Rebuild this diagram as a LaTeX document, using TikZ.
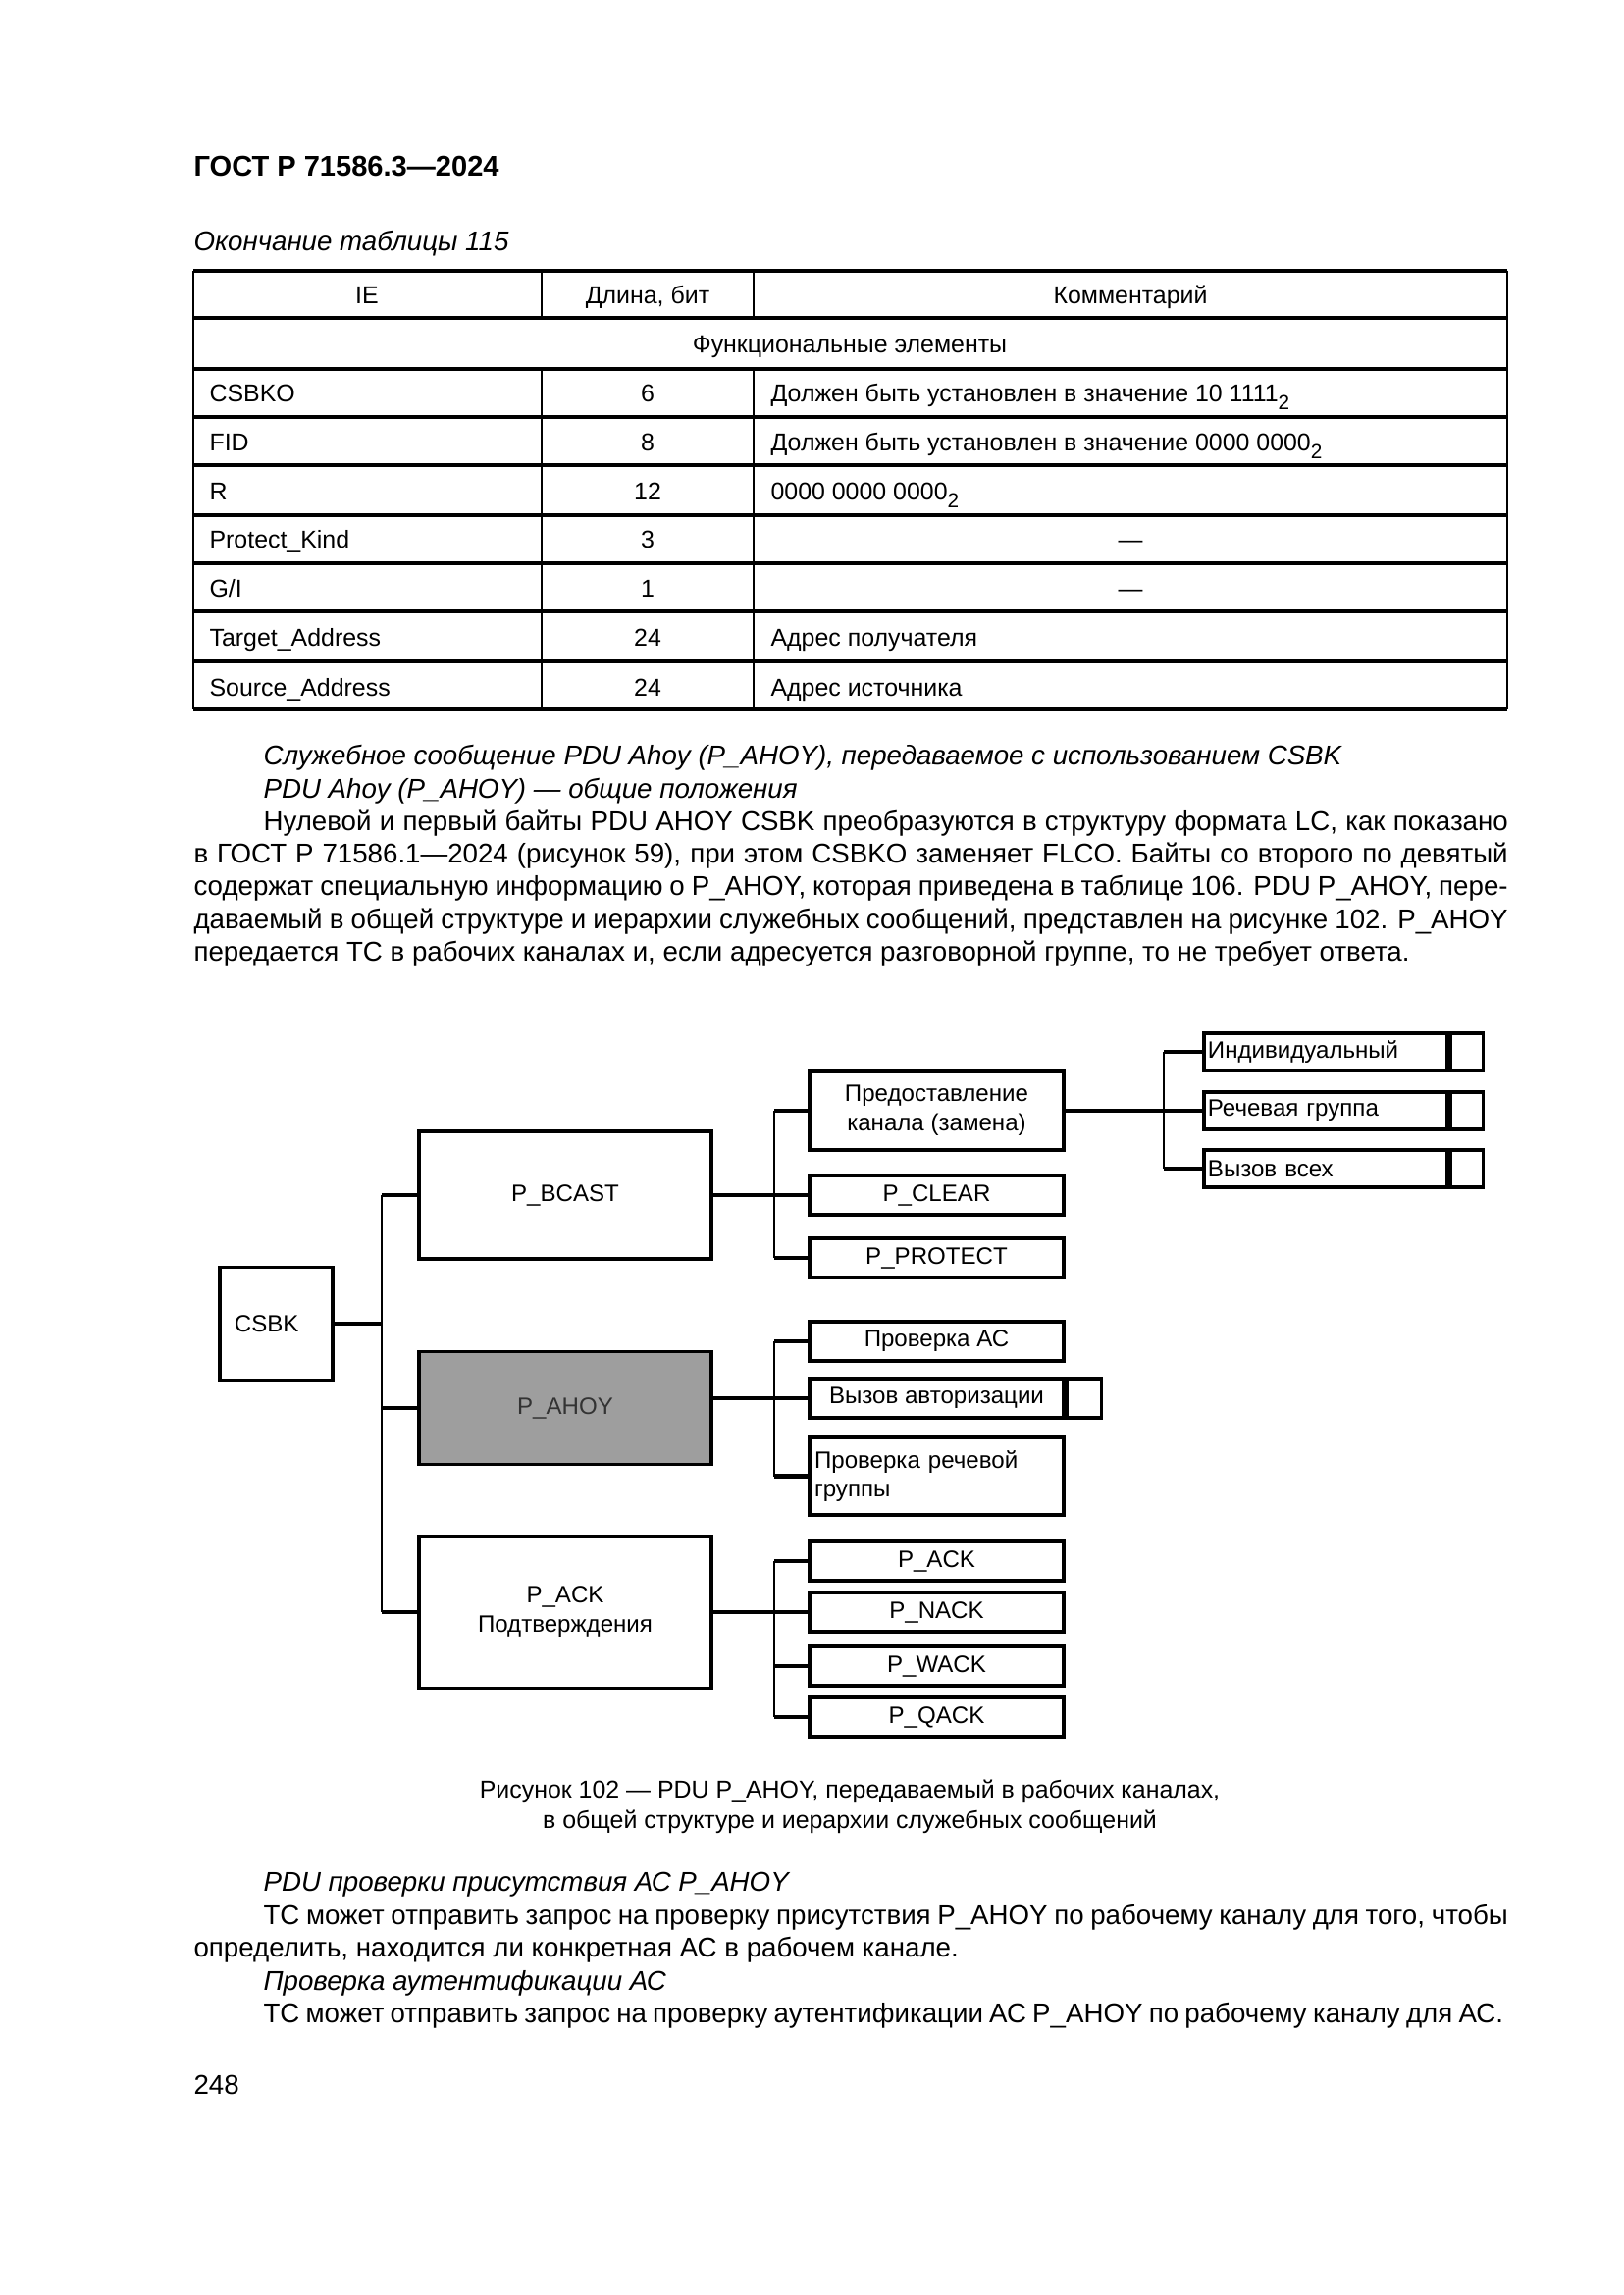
\documentclass[tikz,border=0pt]{standalone}
\usepackage{fontspec}
\setmainfont{Liberation Sans}
\begin{document}
\begin{tikzpicture}[x=0.12696mm,y=-0.12696mm,
  box/.style={draw, line width=1.2pt, inner sep=1pt, font=\fontsize{8.7}{10.8}\selectfont, align=center},
  conn/.style={line width=1.6pt},
  bus/.style={line width=0.9pt},
  tline/.style={line width=1.1pt},
  tvline/.style={line width=0.8pt},
  body/.style={anchor=base west, inner sep=0, font=\fontsize{10}{12}\selectfont},
  ibody/.style={body, font=\fontsize{10}{12}\selectfont\itshape},
  tcell/.style={inner sep=0, font=\fontsize{9}{11}\selectfont},
  captext/.style={anchor=base, inner sep=0, font=\fontsize{9}{11}\selectfont}]
\useasboundingbox[fill=white] (0,0) rectangle (1654,2339);

% header
\node[anchor=base west, inner sep=0, font=\fontsize{10.5}{12}\selectfont\bfseries] (hdr) at (197,180) {ГОСТ Р 71586.3—2024};
\node[ibody] (tabcap) at (197,256) {Окончание таблицы 115};

% table
\foreach \yy in {276,324,376,425,474,525,574,623,674,723} \draw[tline] (197,\yy) -- (1536,\yy);
\draw[tvline] (197,276) -- (197,723);
\draw[tvline] (1536,276) -- (1536,723);
\draw[tvline] (552,276) -- (552,324);
\draw[tvline] (768,276) -- (768,324);
\draw[tvline] (552,376) -- (552,723);
\draw[tvline] (768,376) -- (768,723);

\node[tcell, anchor=base] (h1) at (374,310) {IE};
\node[tcell, anchor=base] (h2) at (660,310) {Длина, бит};
\node[tcell, anchor=base] (h3) at (1152,310) {Комментарий};
\node[tcell, anchor=base] (fe) at (866,360) {Функциональные элементы};

\node[tcell, anchor=base west] (c11) at (213,410) {CSBKO};
\node[tcell, anchor=base] (c12) at (660,410) {6};
\node[tcell, anchor=base west] (c13) at (785,410) {Должен быть установлен в значение 10 1111\raisebox{-0.55ex}{\fontsize{7.5}{8}\selectfont 2}};
\node[tcell, anchor=base west] (c21) at (213,460) {FID};
\node[tcell, anchor=base] (c22) at (660,460) {8};
\node[tcell, anchor=base west] (c23) at (785,460) {Должен быть установлен в значение 0000 0000\raisebox{-0.55ex}{\fontsize{7.5}{8}\selectfont 2}};
\node[tcell, anchor=base west] (c31) at (213,510) {R};
\node[tcell, anchor=base] (c32) at (660,510) {12};
\node[tcell, anchor=base west] (c33) at (785,510) {0000 0000 0000\raisebox{-0.55ex}{\fontsize{7.5}{8}\selectfont 2}};
\node[tcell, anchor=base west] (c41) at (213,559) {Protect\_Kind};
\node[tcell, anchor=base] (c42) at (660,559) {3};
\node[tcell, anchor=base] (c43) at (1152,559) {—};
\node[tcell, anchor=base west] (c51) at (213,609) {G/I};
\node[tcell, anchor=base] (c52) at (660,609) {1};
\node[tcell, anchor=base] (c53) at (1152,609) {—};
\node[tcell, anchor=base west] (c61) at (213,659) {Target\_Address};
\node[tcell, anchor=base] (c62) at (660,659) {24};
\node[tcell, anchor=base west] (c63) at (785,659) {Адрес получателя};
\node[tcell, anchor=base west] (c71) at (213,709) {Source\_Address};
\node[tcell, anchor=base] (c72) at (660,709) {24};
\node[tcell, anchor=base west] (c73) at (785,709) {Адрес источника};

% top paragraphs
\node[ibody] (p1) at (268,779) {Служебное сообщение PDU Ahoy (P\_AHOY), передаваемое с использованием CSBK};
\node[ibody] (p2) at (268,813) {PDU Ahoy (P\_AHOY) — общие положения};
\node[body] (p3) at (268,846) {\hbox to 161.0mm{Нулевой и первый байты PDU AHOY CSBK преобразуются в структуру формата LC, как показано}};
\node[body] (p4) at (197,879) {\hbox to 170.0mm{в ГОСТ Р 71586.1—2024 (рисунок 59), при этом CSBKO заменяет FLCO. Байты со второго по девятый}};
\node[body] (p5) at (197,912) {\hbox to 170.0mm{содержат специальную информацию о P\_AHOY, которая приведена в таблице 106. PDU P\_AHOY, пере-}};
\node[body] (p6) at (197,946) {\hbox to 170.0mm{даваемый в общей структуре и иерархии служебных сообщений, представлен на рисунке 102. P\_AHOY}};
\node[body] (p7) at (197,979) {передается ТС в рабочих каналах и, если адресуется разговорной группе, то не требует ответа.};

% diagram
\coordinate (t) at (389,0);
\coordinate (s1) at (789,0);
\coordinate (s2) at (1186,0);

\node[box, minimum width=14.60mm, minimum height=14.60mm, inner xsep=1.9mm, text width=10.8mm, align=left] (csbk) at (281.5,1349) {CSBK};

\node[box, minimum width=37.83mm, minimum height=16.50mm] (bcast) at (576,1218) {P\_BCAST};
\node[box, minimum width=37.83mm, minimum height=14.60mm, fill=black!38, text=black!80] (ahoy) at (576,1435) {P\_AHOY};
\node[box, minimum width=37.83mm, minimum height=19.68mm] (ack) at (576,1643) {P\_ACK\\Подтверждения};

\node[box, minimum width=32.88mm, minimum height=10.16mm] (pred) at (954.5,1132) {Предоставление\\канала (замена)};
\node[box, minimum width=32.88mm, minimum height=5.08mm] (pclear) at (954.5,1218) {P\_CLEAR};
\node[box, minimum width=32.88mm, minimum height=5.08mm] (pprot) at (954.5,1282) {P\_PROTECT};

\node[box, minimum width=31.49mm, minimum height=4.83mm, inner xsep=0.5mm, text width=30.49mm, align=left] (ind) at (1351,1072) {Индивидуальный};
\node[box, anchor=west, minimum width=4.19mm, minimum height=4.83mm, inner sep=0] (indx) at (ind.east) {};
\node[box, minimum width=31.49mm, minimum height=4.83mm, inner xsep=0.5mm, text width=30.49mm, align=left] (rech) at (1351,1132) {Речевая группа};
\node[box, anchor=west, minimum width=4.19mm, minimum height=4.83mm, inner sep=0] (rechx) at (rech.east) {};
\node[box, minimum width=31.49mm, minimum height=4.83mm, inner xsep=0.5mm, text width=30.49mm, align=left] (vse) at (1351,1191) {Вызов всех};
\node[box, anchor=west, minimum width=4.19mm, minimum height=4.83mm, inner sep=0] (vsex) at (vse.east) {};

\node[box, minimum width=32.88mm, minimum height=5.08mm] (prac) at (954.5,1367) {Проверка АС};
\node[box, minimum width=32.88mm, minimum height=5.08mm] (vyz) at (954.5,1425) {Вызов авторизации};
\node[box, anchor=west, minimum width=4.44mm, minimum height=5.08mm, inner sep=0] (vyzx) at (vyz.east) {};
\node[box, minimum width=32.88mm, minimum height=10.03mm, inner xsep=0.6mm, text width=31.6mm, align=left] (prrech) at (954.5,1504.5) {Проверка речевой\\группы};

\node[box, minimum width=32.88mm, minimum height=5.08mm] (pack) at (954.5,1591) {P\_ACK};
\node[box, minimum width=32.88mm, minimum height=5.08mm] (pnack) at (954.5,1643) {P\_NACK};
\node[box, minimum width=32.88mm, minimum height=5.08mm] (pwack) at (954.5,1698) {P\_WACK};
\node[box, minimum width=32.88mm, minimum height=5.08mm] (pqack) at (954.5,1750) {P\_QACK};

% connectors level 1
\draw[conn] (csbk.east) -- (csbk.east -| t);
\draw[bus] (bcast.west -| t) -- (ack.west -| t);
\draw[conn] (bcast.west -| t) -- (bcast.west);
\draw[conn] (ahoy.west -| t) -- (ahoy.west);
\draw[conn] (ack.west -| t) -- (ack.west);

% P_BCAST group
\draw[conn] (bcast.east) -- (pclear.west);
\draw[bus] (pred.west -| s1) -- (pprot.west -| s1);
\draw[conn] (pred.west -| s1) -- (pred.west);
\draw[conn] (pprot.west -| s1) -- (pprot.west);

% level 3
\draw[conn] (pred.east) -- (rech.west);
\draw[bus] (ind.west -| s2) -- (vse.west -| s2);
\draw[conn] (ind.west -| s2) -- (ind.west);
\draw[conn] (vse.west -| s2) -- (vse.west);

% P_AHOY group
\draw[conn] (vyz.west -| ahoy.east) -- (vyz.west);
\draw[bus] (prac.west -| s1) -- (prrech.west -| s1);
\draw[conn] (prac.west -| s1) -- (prac.west);
\draw[conn] (prrech.west -| s1) -- (prrech.west);

% P_ACK group
\draw[conn] (ack.east) -- (pnack.west);
\draw[bus] (pack.west -| s1) -- (pqack.west -| s1);
\draw[conn] (pack.west -| s1) -- (pack.west);
\draw[conn] (pwack.west -| s1) -- (pwack.west);
\draw[conn] (pqack.west -| s1) -- (pqack.west);

% caption
\node[captext] (cap1) at (866,1832) {Рисунок 102 — PDU P\_AHOY, передаваемый в рабочих каналах,};
\node[captext] (cap2) at (866,1863) {в общей структуре и иерархии служебных сообщений};

% bottom paragraphs
\node[ibody] (q1) at (268,1927) {PDU проверки присутствия АС P\_AHOY};
\node[body] (q2) at (268,1961) {\hbox to 161.0mm{ТС может отправить запрос на проверку присутствия P\_AHOY по рабочему каналу для того, чтобы}};
\node[body] (q3) at (197,1994) {определить, находится ли конкретная АС в рабочем канале.};
\node[ibody] (q4) at (268,2028) {Проверка аутентификации АС};
\node[body] (q5) at (268,2061) {\hbox to 160.4mm{ТС может отправить запрос на проверку аутентификации АС P\_AHOY по рабочему каналу для АС.}};

\node[body] (pg) at (197,2134) {248};
\end{tikzpicture}
\end{document}
